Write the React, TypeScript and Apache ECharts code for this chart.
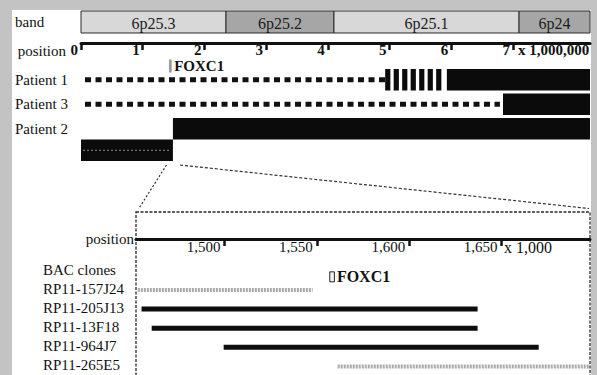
import React, { useEffect, useRef } from 'react';
import * as echarts from 'echarts';

const FONT = 'Liberation Serif, Times New Roman, serif';
const INK = '#111111';

// ---- chromosome 6p bands (Mb) ----
const bandNames = ['6p25.3', '6p25.2', '6p25.1', '6p24'];
const bandStartMb = [0, 2.35, 4.1, 7.1];
const bandEndMb = [2.35, 4.1, 7.1, 8.25];
const bandStains = ['gneg', 'gpos', 'gneg', 'gpos'];

// ---- overview axis ----
const chromMinMb = 0;
const chromMaxMb = 8.25;
const positionTicksMb = [0, 1, 2, 3, 4, 5, 6, 7];

// ---- patients (Mb) ----
const patientRows = ['gene', 'Patient 1', 'Patient 3', 'Patient 2'];
const patient1Starts = [0.065, 4.93, 5.93];
const patient1Ends = [4.93, 5.88, 8.25];
const patient1Patterns = ['dotted', 'striped', 'solid'];
const patient3Starts = [0.065, 6.84];
const patient3Ends = [6.79, 8.25];
const patient3Patterns = ['dotted', 'solid'];
const patient2Starts = [1.49, 0];
const patient2Ends = [8.25, 1.49];
const patient2Patterns = ['solid', 'translocated'];

// ---- gene ----
const geneName = 'FOXC1';
const geneStartMb = 1.425;
const geneEndMb = 1.47;
const geneStartKb = 1557;
const geneEndKb = 1559.5;

// ---- inset axis (kb) ----
const insetMinKb = 1452;
const insetMaxKb = 1698;
const insetTicksKb = [1500, 1550, 1600, 1650];

// ---- BAC clones (kb) ----
const cloneRows = ['BAC clones', 'RP11-157J24', 'RP11-205J13', 'RP11-13F18', 'RP11-964J7', 'RP11-265E5'];
const cloneStartKb = [1453, 1455, 1460.5, 1499.5, 1561.3];
const cloneEndKb = [1547.7, 1637.1, 1637.1, 1670.2, 1700];
const cloneKinds = ['faint', 'dark', 'dark', 'dark', 'faint'];

const stainColor: Record<string, string> = { gneg: '#d8d8d8', gpos: '#a6a6a6' };

type Seg = { s: number; e: number; row: number; pattern: string };
const patientSegments: Seg[] = [
  ...patient1Starts.map((s, i) => ({ s, e: patient1Ends[i], row: patientRows.indexOf('Patient 1'), pattern: patient1Patterns[i] })),
  ...patient3Starts.map((s, i) => ({ s, e: patient3Ends[i], row: patientRows.indexOf('Patient 3'), pattern: patient3Patterns[i] })),
  ...patient2Starts.map((s, i) => ({ s, e: patient2Ends[i], row: patientRows.indexOf('Patient 2'), pattern: patient2Patterns[i] })),
];

const textBase = { fontFamily: FONT, color: INK };

function txt(text: string, x: number, y: number, size: number, weight: string, align = 'left') {
  return {
    text, x, y, fontFamily: FONT, fontSize: size, fontWeight: weight, fill: INK,
    align, textAlign: align, verticalAlign: 'middle', textVerticalAlign: 'middle',
  };
}

function geneItem(a: number[], b: number[], band: number, markerH: number, outline: boolean, size: number, shift: number) {
  const cy = a[1] + band * shift;
  const w = Math.max(b[0] - a[0], 2.5);
  return {
    type: 'group',
    children: [
      {
        type: 'rect',
        shape: { x: a[0], y: cy - markerH / 2, width: w, height: markerH },
        style: outline ? { fill: '#f2f2f2', stroke: '#222', lineWidth: 1 } : { fill: '#9c9c9c' },
      },
      { type: 'text', style: txt(geneName, a[0] + w + 2.5, cy, size, 'bold') },
    ],
  };
}

const option: any = {
  animation: false,
  backgroundColor: '#ffffff',
  graphic: {
    elements: [
      { type: 'rect', shape: { x: 0, y: 0, width: 12, height: 375 }, style: { fill: '#c3c3c3' } },
      { type: 'rect', shape: { x: 0, y: 0, width: 597, height: 10 }, style: { fill: '#c3c3c3' } },
      { type: 'rect', shape: { x: 591, y: 0, width: 6, height: 375 }, style: { fill: '#c3c3c3' } },
      {
        type: 'rect',
        shape: { x: 136, y: 212, width: 454, height: 170 },
        style: { fill: 'none', stroke: '#2a2a2a', lineWidth: 1.3, lineDash: [3, 1.5] },
      },
      { type: 'line', shape: { x1: 166.5, y1: 165, x2: 138.5, y2: 209 }, style: { stroke: '#333', lineWidth: 1.2, lineDash: [2, 2] } },
      { type: 'line', shape: { x1: 180, y1: 165, x2: 589, y2: 208.5 }, style: { stroke: '#333', lineWidth: 1.2, lineDash: [3, 2] } },
      { type: 'text', style: txt('x 1,000,000', 518, 50, 15, 'bold') },
      { type: 'text', style: txt('x 1,000', 504, 247, 16, 'normal') },
    ],
  },
  grid: [
    { left: 81, right: 7, top: 11, height: 22 },
    { left: 81, right: 7, top: 43, height: 98 },
    { left: 136, right: 7, top: 260.2, height: 117.6 },
  ],
  xAxis: [
    { gridIndex: 0, type: 'value', min: chromMinMb, max: chromMaxMb, show: false },
    {
      gridIndex: 1, type: 'value', min: chromMinMb, max: chromMaxMb, position: 'top',
      name: 'position', nameLocation: 'start', nameGap: 15,
      nameTextStyle: { ...textBase, fontSize: 15, align: 'right', verticalAlign: 'top' },
      axisLine: { show: true, lineStyle: { color: INK, width: 3 } },
      axisTick: { show: true, inside: true, length: 7, customValues: positionTicksMb, lineStyle: { color: INK, width: 2.5 } },
      axisLabel: {
        show: true, inside: true, customValues: positionTicksMb, margin: 7, align: 'right', verticalAlign: 'middle',
        padding: [0, 3, 0, 0], ...textBase, fontSize: 15, fontWeight: 'bold',
      },
      splitLine: { show: false },
    },
    {
      gridIndex: 2, type: 'value', min: insetMinKb, max: insetMaxKb, position: 'top', offset: 21.2,
      name: 'position', nameLocation: 'start', nameGap: 2,
      nameTextStyle: { ...textBase, fontSize: 15, align: 'right', verticalAlign: 'middle' },
      axisLine: { show: true, lineStyle: { color: INK, width: 3 } },
      axisTick: { show: true, inside: true, length: 7, customValues: insetTicksKb, lineStyle: { color: INK, width: 2.5 } },
      axisLabel: {
        show: true, inside: true, customValues: insetTicksKb, margin: 8, align: 'right', verticalAlign: 'middle',
        padding: [0, 4, 0, 0], ...textBase, fontSize: 15,
        formatter: (v: number) => v.toLocaleString('en-US'),
      },
      splitLine: { show: false },
    },
  ],
  yAxis: [
    {
      gridIndex: 0, type: 'category', data: ['band'],
      axisLine: { show: false }, axisTick: { show: false }, splitLine: { show: false },
      axisLabel: { ...textBase, fontSize: 15, margin: 66, align: 'left' },
    },
    {
      gridIndex: 1, type: 'category', data: patientRows, inverse: true,
      axisLine: { show: false }, axisTick: { show: false }, splitLine: { show: false },
      axisLabel: {
        ...textBase, fontSize: 15, margin: 66, align: 'left', interval: 0,
        formatter: (v: string) => (v === 'gene' ? '' : v),
      },
    },
    {
      gridIndex: 2, type: 'category', data: cloneRows, inverse: true,
      axisLine: { show: false }, axisTick: { show: false }, splitLine: { show: false },
      axisLabel: { ...textBase, fontSize: 15, margin: 93, align: 'left', interval: 0 },
    },
  ],
  series: [
    {
      type: 'custom', xAxisIndex: 0, yAxisIndex: 0, clip: false,
      data: bandNames.map((_, i) => [bandStartMb[i], bandEndMb[i], 0]),
      encode: { x: [0, 1], y: 2 },
      renderItem: (params: any, api: any) => {
        const i = params.dataIndex;
        const a = api.coord([api.value(0), api.value(2)]);
        const b = api.coord([api.value(1), api.value(2)]);
        const h = api.size([0, 1])[1];
        return {
          type: 'group',
          children: [
            {
              type: 'rect',
              shape: { x: a[0], y: a[1] - h / 2, width: b[0] - a[0], height: h },
              style: { fill: stainColor[bandStains[i]], stroke: '#2a2a2a', lineWidth: 1 },
            },
            { type: 'text', style: { ...txt(bandNames[i], (a[0] + b[0]) / 2, a[1] + 1, 16, 'normal', 'center'), fill: '#1c1c1c' } },
          ],
        };
      },
    },
    {
      type: 'custom', xAxisIndex: 1, yAxisIndex: 1, clip: false,
      data: patientSegments.map((d) => [d.s, d.e, d.row]),
      encode: { x: [0, 1], y: 2 },
      renderItem: (params: any, api: any) => {
        const seg = patientSegments[params.dataIndex];
        const a = api.coord([api.value(0), api.value(2)]);
        const b = api.coord([api.value(1), api.value(2)]);
        const band = api.size([0, 1])[1];
        const h = band * 0.88;
        const y = a[1];
        if (seg.pattern === 'solid') {
          return { type: 'rect', shape: { x: a[0], y: y - h / 2, width: b[0] - a[0], height: h }, style: { fill: '#0b0b0b' } };
        }
        if (seg.pattern === 'dotted') {
          return {
            type: 'line', shape: { x1: a[0], y1: y, x2: b[0], y2: y },
            style: { stroke: '#111', lineWidth: 5, lineDash: [6, 4.5], fill: null },
          };
        }
        if (seg.pattern === 'striped') {
          return {
            type: 'line', shape: { x1: a[0], y1: y, x2: b[0], y2: y },
            style: { stroke: '#0b0b0b', lineWidth: h, lineDash: [5.2, 3.3], fill: null },
          };
        }
        // translocated segment: drawn one bar-height below the row
        const ty = y + h;
        return {
          type: 'group',
          children: [
            { type: 'rect', shape: { x: a[0], y: ty - h / 2, width: b[0] - a[0], height: h }, style: { fill: '#0b0b0b' } },
            {
              type: 'line', shape: { x1: a[0] + 2, y1: ty, x2: b[0] - 2, y2: ty },
              style: { stroke: '#8a8a8a', lineWidth: 1, lineDash: [2, 2], fill: null },
            },
          ],
        };
      },
    },
    {
      type: 'custom', xAxisIndex: 1, yAxisIndex: 1, clip: false,
      data: [[geneStartMb, geneEndMb, patientRows.indexOf('gene')]],
      encode: { x: [0, 1], y: 2 },
      renderItem: (params: any, api: any) => {
        const a = api.coord([api.value(0), api.value(2)]);
        const b = api.coord([api.value(1), api.value(2)]);
        const band = api.size([0, 1])[1];
        return geneItem(a, b, band, 13, false, 15, 0.44);
      },
    },
    {
      type: 'custom', xAxisIndex: 2, yAxisIndex: 2, clip: true,
      data: cloneStartKb.map((s, i) => [s, cloneEndKb[i], i + 1]),
      encode: { x: [0, 1], y: 2 },
      renderItem: (params: any, api: any) => {
        const kind = cloneKinds[params.dataIndex];
        const a = api.coord([api.value(0), api.value(2)]);
        const b = api.coord([api.value(1), api.value(2)]);
        const y = a[1] + 1;
        if (kind === 'dark') {
          return { type: 'line', shape: { x1: a[0], y1: y, x2: b[0], y2: y }, style: { stroke: '#0d0d0d', lineWidth: 5, fill: null } };
        }
        return {
          type: 'line', shape: { x1: a[0], y1: y, x2: b[0], y2: y },
          style: { stroke: '#a9a9a9', lineWidth: 4, lineDash: [2, 1], fill: null },
        };
      },
    },
    {
      type: 'custom', xAxisIndex: 2, yAxisIndex: 2, clip: false,
      data: [[geneStartKb, geneEndKb, 0]],
      encode: { x: [0, 1], y: 2 },
      renderItem: (params: any, api: any) => {
        const a = api.coord([api.value(0), api.value(2)]);
        const b = api.coord([api.value(1), api.value(2)]);
        const band = api.size([0, 1])[1];
        return geneItem(a, b, band, 10, true, 16, 0.37);
      },
    },
  ],
};

export default function App() {
  const ref = useRef<HTMLDivElement>(null);
  useEffect(() => {
    if (!ref.current) return;
    const chart = echarts.init(ref.current, undefined, { renderer: 'svg' });
    chart.setOption(option);
    return () => chart.dispose();
  }, []);
  return <div ref={ref} style={{ position: 'fixed', left: 0, top: 0, width: 597, height: 375 }} />;
}
